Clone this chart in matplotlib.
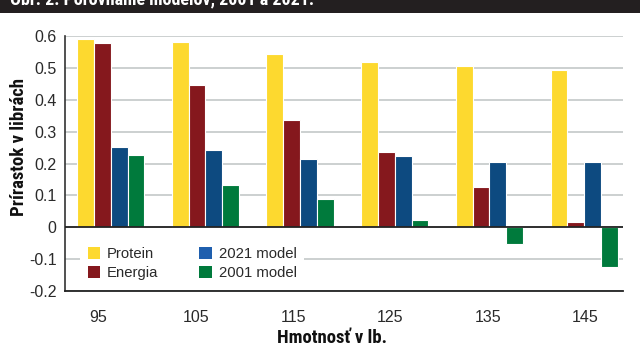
import numpy as np
import matplotlib
matplotlib.use("Agg")
import matplotlib.pyplot as plt
from matplotlib.patches import Rectangle, Patch
from matplotlib import font_manager

weights = ["95", "105", "115", "125", "135", "145"]
series_names = ["Protein", "Energia", "2021 model", "2001 model"]
protein = [0.59, 0.58, 0.545, 0.52, 0.507, 0.494]
energia = [0.578, 0.447, 0.337, 0.236, 0.126, 0.018]
model_2021 = [0.252, 0.243, 0.215, 0.225, 0.204, 0.204]
model_2001 = [0.227, 0.134, 0.089, 0.022, -0.052, -0.126]
y_ticks = [-0.2, -0.1, 0, 0.1, 0.2, 0.3, 0.4, 0.5, 0.6]
y_tick_labels = ["-0.2", "-0.1", "0", "0.1", "0.2", "0.3", "0.4", "0.5", "0.6"]
colors = ["#fdd92f", "#85181d", "#0d4a80", "#007a3c"]
legend_colors = ["#fdd92f", "#85181d", "#1f5fae", "#007a3c"]

installed = {f.name for f in font_manager.fontManager.ttflist}
narrow = None
for name in ["Liberation Sans Narrow", "Roboto Condensed", "DejaVu Sans Condensed",
             "Open Sans Condensed"]:
    if name in installed:
        narrow = name
        break
if narrow is None:
    narrow = "Roboto" if "Roboto" in installed else "DejaVu Sans"
    label_size = 12
else:
    label_size = 13.5

plt.rcParams["font.family"] = ["Liberation Sans", "DejaVu Sans"]

fig = plt.figure(figsize=(6.4, 3.54), dpi=100)
ax = fig.add_axes([65 / 640, 1 - 291 / 354, (623 - 65) / 640, (291 - 36) / 354])

x = np.arange(len(weights))
step = 0.1775
series = [protein, energia, model_2021, model_2001]
for k, vals in enumerate(series):
    ax.bar(x + (k - 1.5) * step, vals, width=step, color=colors[k],
           edgecolor="white", linewidth=0.8, zorder=3)

ax.set_xlim(-0.483, 5.41)
ax.set_ylim(-0.2, 0.6)
ax.set_yticks(y_ticks)
ax.set_yticklabels(y_tick_labels)
ax.set_xticks(x * 1.0275 - 0.129)
ax.set_xticklabels(weights)
ax.tick_params(axis="both", length=0, labelsize=11.5, labelcolor="#2a2a2a")
ax.tick_params(axis="x", pad=14)
ax.tick_params(axis="y", pad=6)

ax.grid(axis="y", color="#c4c8c8", linewidth=1.2, zorder=0)
ax.axhline(0, color="#222222", linewidth=1.3, zorder=4)
for side in ["top", "right"]:
    ax.spines[side].set_visible(False)
ax.spines["left"].set_color("#333333")
ax.spines["left"].set_linewidth(1.2)
ax.spines["bottom"].set_color("#222222")
ax.spines["bottom"].set_linewidth(1.3)

handles = [Patch(facecolor=c, edgecolor="none") for c in legend_colors]
leg = ax.legend(handles, series_names, ncol=2, loc="upper left",
                bbox_to_anchor=(0.014, 0.231), frameon=True, fontsize=10.7,
                handlelength=0.85, handleheight=0.85, handletextpad=0.45,
                columnspacing=2.75, labelspacing=0.35, borderpad=0.5)
leg.get_frame().set_facecolor("white")
leg.get_frame().set_edgecolor("none")
leg.get_frame().set_alpha(1)
for t in leg.get_texts():
    t.set_color("#2a2a2a")

ax.set_ylabel("Prírastok v librách", fontsize=label_size, fontweight="bold",
              family=[narrow, "DejaVu Sans"], color="#111111")
ax.yaxis.set_label_coords(-0.083, 0.565)
ax.set_xlabel("Hmotnosť v lb.", fontsize=label_size, fontweight="bold",
              family=[narrow, "DejaVu Sans"], color="#111111")
ax.xaxis.set_label_coords(0.478, -0.185)
ax.xaxis.label.set_va("center")
ax.yaxis.label.set_va("center")

# header band with the figure caption
fig.patches.append(Rectangle((0, 1 - 13 / 354), 1, 13 / 354, transform=fig.transFigure,
                             facecolor="#231f20", edgecolor="none", zorder=0))
fig.text(10 / 640, 1 - 4 / 354, "Obr. 2. Porovnanie modelov, 2001 a 2021.",
         color="white", fontsize=13, fontweight="bold", family=[narrow, "DejaVu Sans"],
         va="baseline", ha="left")

fig.savefig("out.png", dpi=100)
